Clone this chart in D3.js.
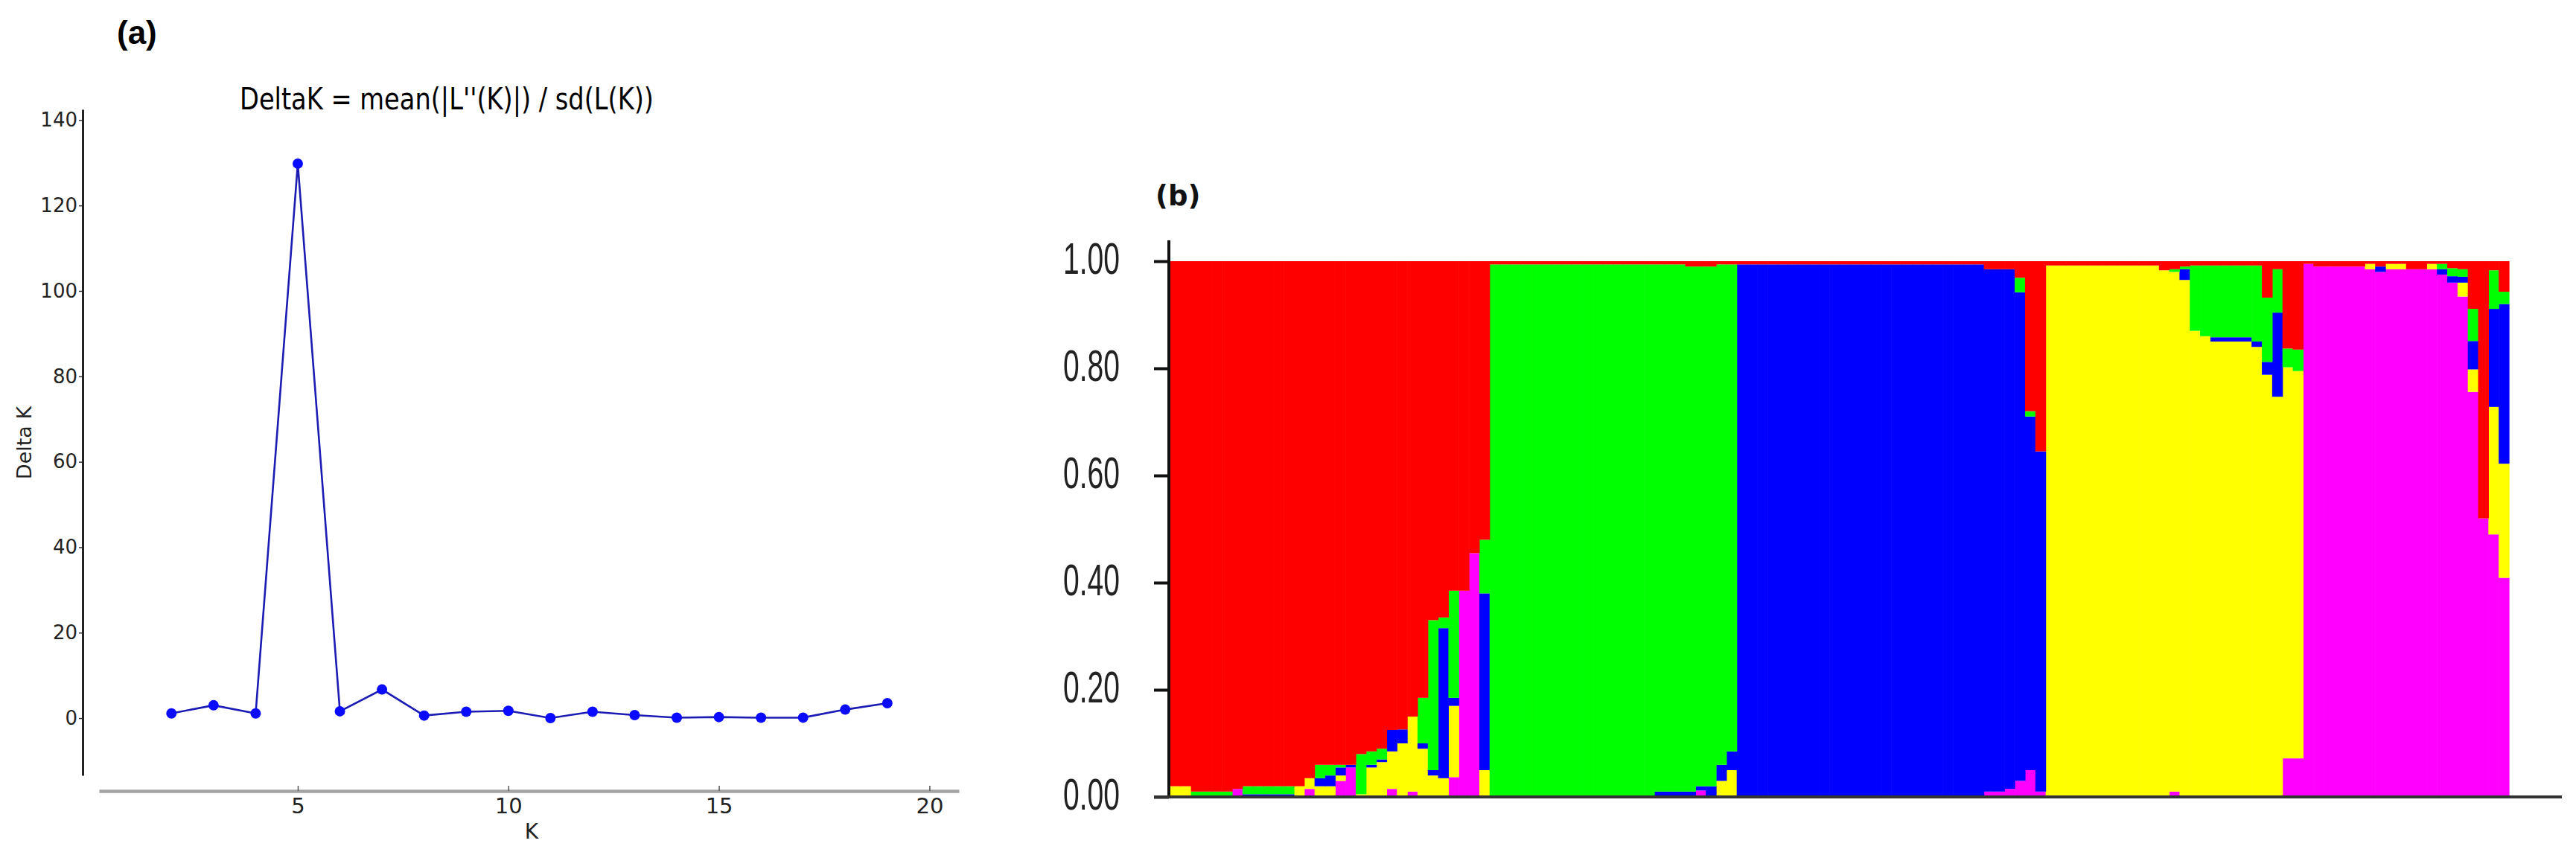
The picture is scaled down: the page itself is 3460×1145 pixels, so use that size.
<!DOCTYPE html>
<html>
<head>
<meta charset="utf-8">
<script src="https://cdn.jsdelivr.net/npm/d3@7"></script>
<style>
  html, body { margin: 0; padding: 0; background: #ffffff; }
  svg { display: block; }
</style>
</head>
<body>
<svg id="chart" width="3460" height="1145"></svg>
<script>
// ---------------- Panel (a) data: Evanno DeltaK ----------------
const kValues = [2, 3, 4, 5, 6, 7, 8, 9, 10, 11, 12, 13, 14, 15, 16, 17, 18, 19];
const deltaK  = [1.1, 3.0, 1.1, 129.8, 1.6, 6.7, 0.6, 1.5, 1.7, 0.02, 1.5, 0.7, 0.1, 0.25, 0.1, 0.12, 2.0, 3.5];
const aYTicks = [0, 20, 40, 60, 80, 100, 120, 140];
const aXTicks = [5, 10, 15, 20];
const aTitle  = "DeltaK = mean(|L''(K)|) / sd(L(K))";

// ---------------- Panel (b) data: STRUCTURE Q-matrix (K = 5), 130 individuals ----------------
// stacking order bottom -> top: magenta, yellow, blue, green, red
const clusterKeys   = ["magenta", "yellow", "blue", "green", "red"];
const clusterColors = ["#ff00ff", "#ffff00", "#0000ff", "#00ff00", "#ff0000"];
const bYTicks = [0, 0.2, 0.4, 0.6, 0.8, 1.0];

const qMagenta = [
  0,0,0,0,0,0,.015,0,0,0,0,0,0,.015,0,0,.03,.055,0,0,0,.015,0,.01,0,0,0,.037,.385,.455,0,
  0,0,0,0,0,0,0,0,0,0,0,0,0,0,0,0,0,0,0,0,.012,0,0,0,
  0,0,0,0,0,0,0,0,0,0,0,0,0,0,0,0,0,0,0,0,0,0,0,0,.01,.01,.015,.03,.05,.01,
  0,0,0,0,0,0,0,0,0,0,0,0,.01,0,0,0,0,0,0,0,0,0,0,.072,.072,
  .995,.99,.99,.99,.99,.99,.985,.98,.985,.985,.985,.985,.985,.975,.96,.934,.756,.52,.49,.409
];
const qYellow = [
  .02,.02,0,0,0,0,0,0,0,0,0,0,.02,.02,.02,.02,.01,0,.005,.055,.065,.07,.1,.14,.09,.04,.035,.133,0,0,.05,
  0,0,0,0,0,0,0,0,0,0,0,0,0,0,0,0,0,0,0,0,0,0,.03,.05,
  0,0,0,0,0,0,0,0,0,0,0,0,0,0,0,0,0,0,0,0,0,0,0,0,0,0,0,0,0,0,
  .992,.992,.992,.992,.992,.992,.992,.992,.992,.992,.992,.983,.97,.965,.87,.86,.85,.85,.85,.85,.84,.788,.747,.73,.723,
  0,0,0,0,0,0,.01,0,.01,.01,0,0,.01,0,0,.026,.042,0,.238,.213
];
const qBlue = [
  0,0,0,0,0,0,0,.005,.005,.005,.005,.005,0,0,.015,.02,.015,.005,0,.005,.005,.04,.026,0,.01,.01,.28,.015,0,0,.33,
  0,0,0,0,0,0,0,0,0,0,0,0,0,0,0,0,.01,.01,.01,.01,.008,.02,.03,.035,
  .994,.994,.994,.994,.994,.994,.994,.994,.994,.994,.994,.994,.994,.994,.994,.994,.994,.994,.994,.994,.994,.994,.994,.994,.975,.975,.97,.912,.66,.635,
  0,0,0,0,0,0,0,0,0,0,0,0,0,.02,0,0,.008,.008,.008,.008,.01,.024,.157,0,0,
  0,0,0,0,0,0,0,.01,0,0,0,0,0,.01,.012,.011,.053,0,.183,.298
];
const qGreen = [
  0,0,.01,.01,.01,.01,0,.015,.015,.015,.015,.015,0,0,.025,.02,.005,0,.075,.025,.02,0,0,0,.085,.28,.02,.2,0,0,.1,
  .994,.994,.994,.994,.994,.994,.994,.994,.994,.994,.994,.994,.994,.994,.994,.994,.984,.984,.984,.98,.97,.97,.934,.909,
  0,0,0,0,0,0,0,0,0,0,0,0,0,0,0,0,0,0,0,0,0,0,0,0,0,0,0,.027,.01,0,
  0,0,0,0,0,0,0,0,0,0,0,0,.005,.005,.122,.132,.134,.134,.134,.134,.142,.12,.081,.035,.04,
  0,0,0,0,0,0,0,0,0,0,0,0,0,.01,.015,.014,.06,0,.072,.023
];
const qRed = [
  .98,.98,.99,.99,.99,.99,.985,.98,.98,.98,.98,.98,.98,.965,.94,.94,.94,.94,.92,.915,.91,.875,.874,.85,.815,.67,.665,.615,.615,.545,.52,
  .006,.006,.006,.006,.006,.006,.006,.006,.006,.006,.006,.006,.006,.006,.006,.006,.006,.006,.006,.01,.01,.01,.006,.006,
  .006,.006,.006,.006,.006,.006,.006,.006,.006,.006,.006,.006,.006,.006,.006,.006,.006,.006,.006,.006,.006,.006,.006,.006,.015,.015,.015,.031,.28,.355,
  .008,.008,.008,.008,.008,.008,.008,.008,.008,.008,.008,.017,.015,.01,.008,.008,.008,.008,.008,.008,.008,.068,.015,.163,.165,
  .005,.01,.01,.01,.01,.01,.005,.01,.005,.005,.015,.015,.005,.005,.013,.015,.089,.48,.017,.057
];

// ---------------- Drawing ----------------
const svg = d3.select("#chart");
svg.append("rect").attr("width", 3460).attr("height", 1145).attr("fill", "#ffffff");

// ======== Panel (a) ========
const ga = svg.append("g");
const xA = d3.scaleLinear().domain([0.28, 20.7]).range([133, 1288]);
const yA = d3.scaleLinear().domain([-13.4, 142.5]).range([1042, 147]);

ga.append("text").attr("x", 157).attr("y", 59)
  .attr("font-family", "'Liberation Sans', Arial, sans-serif").attr("font-weight", "bold")
  .attr("font-size", 44).attr("fill", "#000").text("(a)");

ga.append("text").attr("x", 600).attr("y", 147)
  .attr("text-anchor", "middle")
  .attr("font-family", "'DejaVu Sans', Verdana, sans-serif")
  .attr("font-size", 41).attr("fill", "#000")
  .attr("textLength", 556).attr("lengthAdjust", "spacingAndGlyphs")
  .text(aTitle);

// y axis
const yAxisA = ga.append("g").attr("transform", "translate(111,0)")
  .call(d3.axisLeft(yA).tickValues(aYTicks).tickSize(5).tickSizeOuter(0).tickPadding(2));
yAxisA.select(".domain").attr("stroke", "#000").attr("stroke-width", 2.6);
yAxisA.selectAll(".tick line").attr("stroke", "#333").attr("stroke-width", 1.5);
yAxisA.selectAll(".tick text")
  .attr("font-family", "'DejaVu Sans', Verdana, sans-serif")
  .attr("font-size", 26).attr("fill", "#222");

// x axis
const xAxisA = ga.append("g").attr("transform", "translate(0,1063)")
  .call(d3.axisBottom(xA).tickValues(aXTicks).tickSize(-7).tickSizeOuter(0).tickPadding(9));
xAxisA.select(".domain").attr("stroke", "#a3a3a3").attr("stroke-width", 4.5);
xAxisA.selectAll(".tick line").attr("stroke", "#555").attr("stroke-width", 1.5);
xAxisA.selectAll(".tick text")
  .attr("font-family", "'DejaVu Sans', Verdana, sans-serif")
  .attr("font-size", 29).attr("fill", "#222");

ga.append("text").attr("transform", "translate(42,595) rotate(-90)")
  .attr("text-anchor", "middle")
  .attr("font-family", "'DejaVu Sans', Verdana, sans-serif")
  .attr("font-size", 27).attr("fill", "#222").text("Delta K");

ga.append("text").attr("x", 714).attr("y", 1127)
  .attr("text-anchor", "middle")
  .attr("font-family", "'DejaVu Sans', Verdana, sans-serif")
  .attr("font-size", 28).attr("fill", "#222").text("K");

const ptsA = kValues.map((k, i) => ({ k: k, v: deltaK[i] }));
ga.append("path").datum(ptsA)
  .attr("fill", "none").attr("stroke", "#1c1cb4").attr("stroke-width", 2.6)
  .attr("d", d3.line().x(d => xA(d.k)).y(d => yA(d.v)));
ga.selectAll("circle.pt").data(ptsA).join("circle").attr("class", "pt")
  .attr("cx", d => xA(d.k)).attr("cy", d => yA(d.v)).attr("r", 7)
  .attr("fill", "#0a0aff");

// ======== Panel (b) ========
const gb = svg.append("g");
const nInd = qRed.length;
const table = d3.range(nInd).map(i => ({
  idx: i, magenta: qMagenta[i], yellow: qYellow[i], blue: qBlue[i], green: qGreen[i], red: qRed[i]
}));
const xB = d3.scaleBand().domain(d3.range(nInd)).range([1572, 3370]).padding(0);
const yB = d3.scaleLinear().domain([0, 1]).range([1071, 351]);
const colorB = d3.scaleOrdinal().domain(clusterKeys).range(clusterColors);
const stacked = d3.stack().keys(clusterKeys)(table);

gb.append("g").selectAll("g").data(stacked).join("g")
  .attr("fill", s => colorB(s.key))
  .selectAll("rect").data(s => s).join("rect")
  .attr("x", d => xB(d.data.idx))
  .attr("width", xB.bandwidth() + 0.6)
  .attr("y", d => yB(d[1]))
  .attr("height", d => Math.max(0, yB(d[0]) - yB(d[1])));

// axes of (b)
const yAxisB = gb.append("g").attr("transform", "translate(1570,0)")
  .call(d3.axisLeft(yB).tickValues(bYTicks).tickFormat(d3.format(".2f")).tickSize(20).tickSizeOuter(0).tickPadding(46));
yAxisB.select(".domain").remove();
yAxisB.selectAll(".tick line").attr("stroke", "#111").attr("stroke-width", 4);
yAxisB.selectAll(".tick text")
  .attr("font-family", "'Liberation Sans', Arial, sans-serif")
  .attr("font-size", 60).attr("fill", "#222")
  .attr("dy", null).attr("y", 16)
  .attr("textLength", 76).attr("lengthAdjust", "spacingAndGlyphs");

gb.append("line").attr("x1", 1570).attr("x2", 1570)
  .attr("y1", yB(1.039)).attr("y2", yB(0))
  .attr("stroke", "#111").attr("stroke-width", 4);
gb.append("line").attr("x1", 1550).attr("x2", 3441)
  .attr("y1", yB(0)).attr("y2", yB(0))
  .attr("stroke", "#333").attr("stroke-width", 4);

gb.append("text").attr("x", 1552).attr("y", 276)
  .attr("font-family", "'DejaVu Sans', Verdana, sans-serif").attr("font-weight", "bold")
  .attr("font-size", 37).attr("fill", "#111").text("(b)");
</script>
</body>
</html>
